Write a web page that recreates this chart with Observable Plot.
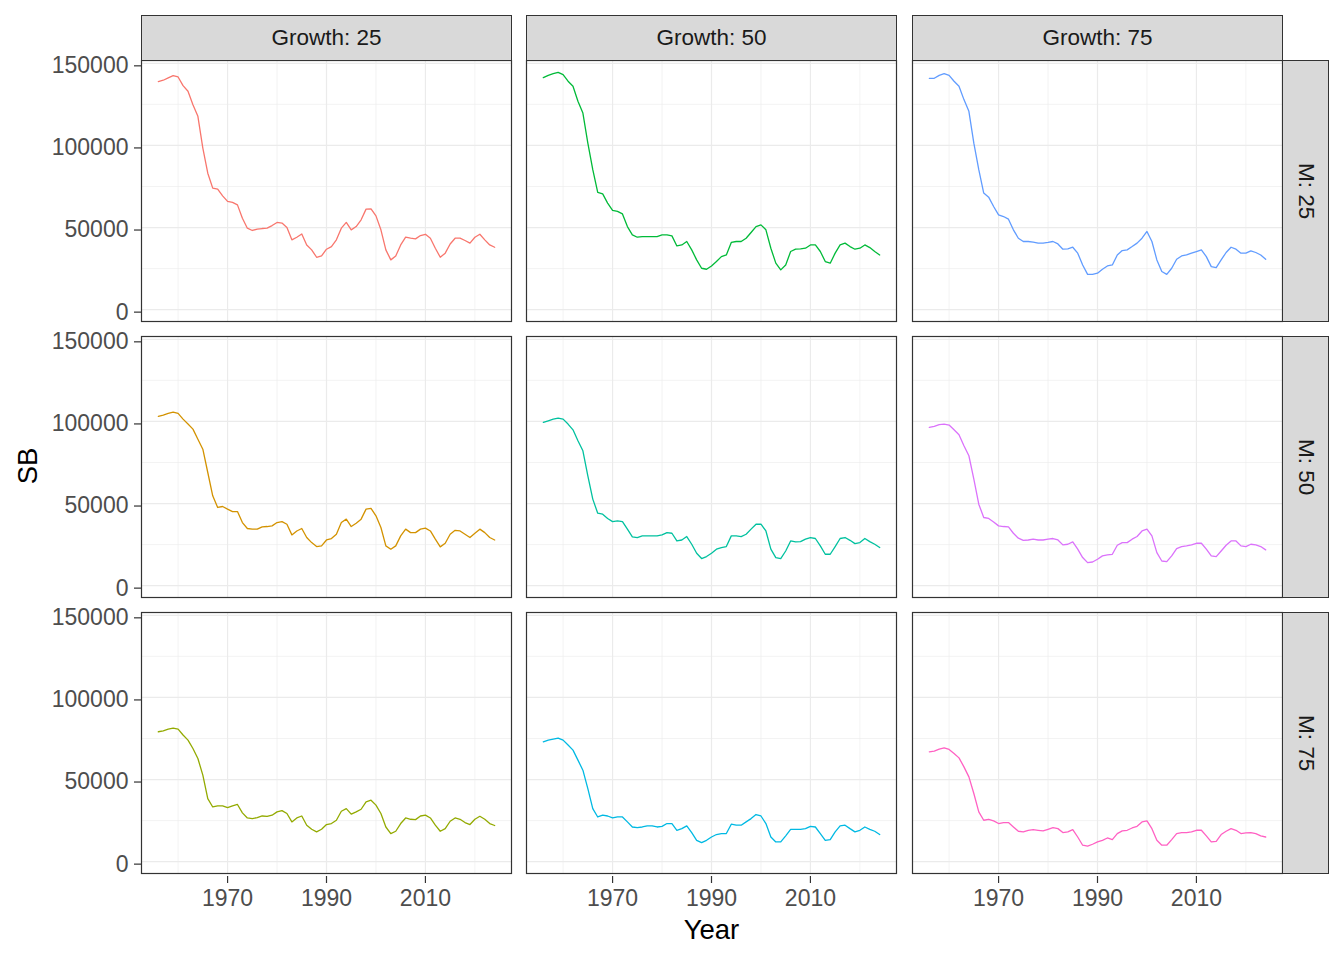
<!DOCTYPE html>
<html>
<head>
<meta charset="utf-8">
<script src="https://cdn.jsdelivr.net/npm/d3@7"></script>
<script src="https://cdn.jsdelivr.net/npm/@observablehq/plot@0.6"></script>
<style>
  html, body { margin: 0; padding: 0; background: #ffffff; }
  #chart { position: relative; width: 1344px; height: 960px; font-family: "Liberation Sans", Arial, sans-serif; }
  .panel { position: absolute; }
  .panel svg { overflow: visible; display: block; }
  .strip { position: absolute; box-sizing: border-box; border: 1.1px solid #333333; background: #D9D9D9;
           display: flex; align-items: center; justify-content: center; font-size: 22.5px; color: #1A1A1A; }
  .strip.right span { writing-mode: vertical-rl; }
  .title { position: absolute; font-size: 27.5px; color: #000; white-space: nowrap; }
</style>
</head>
<body>
<div id="chart"></div>
<script>
// ---- data ----
const years = [1956,1957,1958,1959,1960,1961,1962,1963,1964,1965,1966,1967,1968,1969,1970,1971,1972,1973,1974,1975,1976,1977,1978,1979,1980,1981,1982,1983,1984,1985,1986,1987,1988,1989,1990,1991,1992,1993,1994,1995,1996,1997,1998,1999,2000,2001,2002,2003,2004,2005,2006,2007,2008,2009,2010,2011,2012,2013,2014,2015,2016,2017,2018,2019,2020,2021,2022,2023,2024];

const growthLevels = [25, 50, 75];
const mLevels = [25, 50, 75];

const sb_g25_m25 = [138900,139700,141100,142500,141700,136400,133000,124800,117700,98400,
  83100,74000,73400,69300,65900,65300,63800,55700,49600,48200,
  49000,49400,49600,51200,53100,52700,50000,42500,44100,46100,
  39400,36400,31900,32700,36800,38400,42500,49600,53100,48600,
  50600,54700,61200,61400,57100,48600,36400,30300,32700,39400,
  44100,43500,43100,45100,45900,43500,37400,31900,34400,40000,
  43500,43500,42100,40500,44100,45900,42500,39400,38000];
const sb_g50_m25 = [141300,142700,143700,144500,143100,139100,136000,126900,119700,101400,
  85200,71400,70500,64900,60400,59800,58300,50600,45500,44100,
  44500,44500,44500,44500,45500,45500,44900,38800,39400,41500,
  36400,30300,25200,24600,26600,29300,32300,33300,40900,41500,
  41500,43500,47000,50600,51600,48600,37400,28300,24200,27200,
  35400,36800,37000,37400,39400,39400,35400,29300,28300,34400,
  39400,40500,38400,36800,37400,39400,37800,35400,33300];
const sb_g75_m25 = [140900,140900,142700,143700,142700,139100,136000,127900,120800,101400,
  85200,71000,68500,62800,57700,56700,55100,48600,43500,41500,
  41500,41100,40500,40500,40900,41500,40000,36800,37000,38000,
  34400,27200,21500,21500,22200,24600,26600,27200,33300,36000,
  36400,38400,40500,43500,47600,41500,30300,23200,21500,25200,
  30700,32700,33300,34400,35400,36400,32300,26200,25600,30300,
  34800,38000,36800,34400,34400,35800,34800,33300,30700];
const sb_g25_m50 = [103100,103900,104900,105700,104900,101400,98400,95300,89200,83100,
  68900,54700,47600,48200,46600,45100,45100,38400,34800,34400,
  34400,35800,36000,36400,38400,39000,37400,30900,33300,34800,
  29300,26200,23800,24200,27800,28700,31300,38400,40500,36000,
  38000,40500,46600,47000,42500,35400,24200,22200,24200,30300,
  34400,32300,32300,34400,35000,33300,28300,23600,25800,31300,
  33700,33300,31300,29300,31900,34400,32300,29300,27800];
const sb_g50_m50 = [99400,100400,101400,102000,101400,98400,94900,88200,82100,66900,
  52700,44100,43500,40900,39000,39400,39000,34400,29700,29300,
  30300,30300,30300,30300,30900,32300,31900,27200,27800,29900,
  25200,19700,16500,17700,19700,22200,23200,23800,30300,30300,
  29900,31300,34400,37400,37400,33300,22200,17100,16500,21100,
  27200,26600,26800,28300,29300,28700,24200,19100,19100,23800,
  28700,29300,27600,25600,26200,28700,26800,25200,23200];
const sb_g75_m50 = [96400,97000,98000,98400,97800,94900,91900,85200,79100,64900,
  49600,41500,40900,38800,36400,36000,35800,31900,28900,27600,
  27800,28300,27800,27800,28300,28700,27800,24800,25200,26600,
  22200,17100,14000,14400,16100,18100,18700,19100,24600,26200,
  26200,28300,29900,33300,34400,30300,20100,15000,14600,18100,
  22600,23800,24200,24800,25800,25800,22200,18100,17700,21100,
  24600,27200,27200,24200,23800,25200,24800,23800,21800];
const sb_g25_m75 = [79100,79700,80700,81300,80700,77100,74000,68900,62800,52700,
  38400,33300,34000,34000,32900,34000,34800,29700,26600,26200,
  26800,27800,27600,28300,30300,31100,29300,24200,26600,27800,
  22200,19700,18100,19700,22600,23200,25200,30700,32300,28900,
  30300,31900,36400,37400,34400,29300,21100,17100,18500,23200,
  26600,25800,25600,27800,28300,26600,22200,18500,20100,24600,
  26600,25800,23800,22600,25800,27600,25800,23200,22000];
const sb_g50_m75 = [73000,74000,74600,75200,74000,71000,67900,61800,55700,44500,
  32300,27200,28300,27800,26600,27200,27200,24200,21100,20700,
  21100,21800,21800,21100,21500,23200,23200,19100,20100,21800,
  17700,13000,11600,13000,15000,16500,17100,17100,22800,22200,
  22200,24200,26200,28700,27800,23200,15000,12000,12000,15700,
  19700,19700,19700,20100,21500,21100,17100,13000,13400,18100,
  21800,22200,20100,18100,19100,21100,19700,18500,16500];
const sb_g75_m75 = [66900,67300,68500,69300,68300,65900,63200,57700,51600,41500,
  30300,25200,25800,24800,23200,23800,23800,21100,18500,18100,
  19100,19500,19100,18700,19700,20700,20100,17700,18100,19500,
  15000,10000,9400,10600,12000,13000,14400,13400,17100,18700,
  19100,20500,21500,24200,24800,20100,13000,10000,10000,13400,
  17100,17700,17700,18100,19100,19100,15700,12000,12400,16500,
  18500,20100,19100,17100,17500,17700,17100,15700,15000];

// series grid [growth][m]
const seriesGrid = [
  [sb_g25_m25, sb_g25_m50, sb_g25_m75],
  [sb_g50_m25, sb_g50_m50, sb_g50_m75],
  [sb_g75_m25, sb_g75_m50, sb_g75_m75]
];
const colorGrid = [
  ["#F8766D", "#D39200", "#93AA00"],
  ["#00BA38", "#00C19F", "#00B9E3"],
  ["#619CFF", "#DB72FB", "#FF61C3"]
];

const xMajor = [1970, 1990, 2010];
const xMinor = [1960, 1980, 2000, 2020];
const yMajor = [0, 50000, 100000, 150000];
const yMinor = [25000, 75000, 125000];

// ---- layout ----
const colX = [141, 526, 912];
const rowY = [60, 336, 612];
const PW = 370, PH = 261;
const fontFam = '"Liberation Sans", Arial, sans-serif';

const chart = document.getElementById("chart");

function makePanel(gi, mi) {
  const col = gi, row = mi;
  const mL = col === 0 ? 141 : 0;
  const mB = row === 2 ? 60 : 0;
  const rows = years.map((yr, i) => ({year: yr, sb: seriesGrid[gi][mi][i]}));
  const marks = [
    Plot.ruleX(xMinor, {stroke: "#EBEBEB", strokeWidth: 0.6}),
    Plot.ruleY(yMinor, {stroke: "#EBEBEB", strokeWidth: 0.6}),
    Plot.ruleX(xMajor, {stroke: "#EBEBEB", strokeWidth: 1.2}),
    Plot.ruleY(yMajor, {stroke: "#EBEBEB", strokeWidth: 1.2}),
    Plot.line(rows, {x: "year", y: "sb", stroke: colorGrid[gi][mi], strokeWidth: 1.3}),
    Plot.frame({stroke: "#333333", strokeWidth: 1.2})
  ];
  if (col === 0) marks.push(Plot.axisY(yMajor, {tickSize: 7, tickPadding: 6, dy: 2.5, fontSize: 23, tickFormat: d => String(d), label: null, stroke: "#333333", fill: "#4D4D4D", strokeWidth: 1.2}));
  if (row === 2) marks.push(Plot.axisX(xMajor, {tickSize: 7, tickPadding: 6, dy: 3, fontSize: 23, tickFormat: d => String(d), label: null, stroke: "#333333", fill: "#4D4D4D", strokeWidth: 1.2}));
  const p = Plot.plot({
    width: mL + PW,
    height: PH + mB,
    marginLeft: mL, marginRight: 0, marginTop: 0, marginBottom: mB,
    x: {domain: [1952.6, 2027.4], axis: null},
    y: {domain: [-7225, 151725], axis: null},
    style: {fontFamily: fontFam, fontSize: "23px", background: "transparent", overflow: "visible"},
    marks
  });
  const div = document.createElement("div");
  div.className = "panel";
  div.style.left = (colX[col] - mL) + "px";
  div.style.top = rowY[row] + "px";
  div.appendChild(p);
  chart.appendChild(div);
}

for (let g = 0; g < 3; g++) for (let m = 0; m < 3; m++) makePanel(g, m);

// strips
growthLevels.forEach((g, i) => {
  const s = document.createElement("div");
  s.className = "strip";
  s.style.left = colX[i] + "px";
  s.style.top = "15px";
  s.style.width = (PW + 1) + "px";
  s.style.height = "46px";
  s.innerHTML = "<span>Growth: " + g + "</span>";
  chart.appendChild(s);
});
mLevels.forEach((m, i) => {
  const s = document.createElement("div");
  s.className = "strip right";
  s.style.left = (colX[2] + PW) + "px";
  s.style.top = rowY[i] + "px";
  s.style.width = "47px";
  s.style.height = (PH + 1) + "px";
  s.innerHTML = "<span>M: " + m + "</span>";
  chart.appendChild(s);
});

// axis titles
const xt = document.createElement("div");
xt.className = "title";
xt.textContent = "Year";
xt.style.left = "711.5px";
xt.style.top = "930px";
xt.style.transform = "translate(-50%, -50%)";
chart.appendChild(xt);

const yt = document.createElement("div");
yt.className = "title";
yt.textContent = "SB";
yt.style.left = "28px";
yt.style.top = "466px";
yt.style.transform = "translate(-50%, -50%) rotate(-90deg)";
chart.appendChild(yt);
</script>
</body>
</html>
